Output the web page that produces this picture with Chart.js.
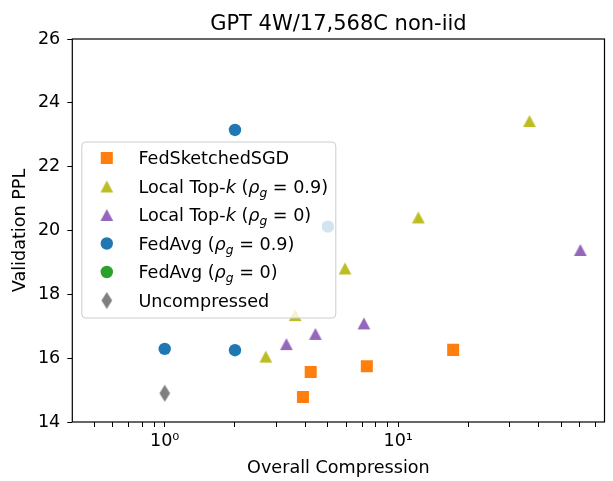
<!DOCTYPE html>
<html>
<head>
<meta charset="utf-8">
<script src="https://cdn.jsdelivr.net/npm/chart.js@4/dist/chart.umd.min.js"></script>
<style>
  html, body { margin: 0; padding: 0; background: #fff; }
  #wrap { width: 613px; height: 481px; }
</style>
</head>
<body>
<div id="wrap"><canvas id="c" width="613" height="481"></canvas></div>
<script>
/* GPT 4W/17,568C non-iid — validation PPL vs overall compression */

// ── DATA ───────────────────────────────────────────────────────
const SKETCH_X   = [3.91, 4.22, 7.34, 17.2];
const SKETCH_Y   = [14.78, 15.57, 15.75, 16.26];
const TOPK09_X   = [2.71, 3.62, 5.92, 12.2, 36.5];
const TOPK09_Y   = [16.05, 17.35, 18.81, 20.41, 23.43];
const TOPK0_X    = [3.32, 4.42, 7.13, 60.3];
const TOPK0_Y    = [16.44, 16.76, 17.09, 19.39];
const FEDAVG09_X = [1, 2, 2, 5];
const FEDAVG09_Y = [16.29, 16.25, 23.15, 20.12];
const FEDAVG0_X  = [];
const FEDAVG0_Y  = [];
const UNCOMP_X   = [1];
const UNCOMP_Y   = [14.9];

const X_TICKS       = [0.5, 0.6, 0.7, 0.8, 0.9, 1, 2, 3, 4, 5, 6, 7, 8, 9, 10, 20, 30, 40, 50, 60, 70];
const X_TICK_LABELS = ['', '', '', '', '', '10\u2070', '', '', '', '', '', '', '', '', '10\u00b9', '', '', '', '', '', ''];

const TITLE = 'GPT 4W/17,568C non-iid';

// legend text as segments: i = italic, sub = subscript
const LEGEND_TEXT = [
  [{ t: 'FedSketchedSGD' }],
  [{ t: 'Local Top-' }, { t: 'k', i: true }, { t: ' (' }, { t: '\u03c1', i: true }, { t: 'g', i: true, sub: true }, { t: ' = 0.9)' }],
  [{ t: 'Local Top-' }, { t: 'k', i: true }, { t: ' (' }, { t: '\u03c1', i: true }, { t: 'g', i: true, sub: true }, { t: ' = 0)' }],
  [{ t: 'FedAvg (' }, { t: '\u03c1', i: true }, { t: 'g', i: true, sub: true }, { t: ' = 0.9)' }],
  [{ t: 'FedAvg (' }, { t: '\u03c1', i: true }, { t: 'g', i: true, sub: true }, { t: ' = 0)' }],
  [{ t: 'Uncompressed' }],
];

// ── STYLE ──────────────────────────────────────────────────────
const FONT = 'DejaVu Sans';
const FS = 17.6;
const C_ORANGE = '#ff7f0e', C_OLIVE = '#bcbd22', C_PURPLE = '#9467bd';
const C_BLUE = '#1f77b4', C_GREEN = '#2ca02c', C_GRAY = '#7f7f7f';

const pts = (xs, ys) => xs.map((x, i) => ({ x, y: ys[i] }));

// matplotlib-like marker shapes drawn into small canvases
function markerCanvas(w, h, color, poly) {
  const c = document.createElement('canvas');
  c.width = w; c.height = h;
  const g = c.getContext('2d');
  g.fillStyle = color;
  g.beginPath();
  poly.forEach(([x, y], i) => i ? g.lineTo(x, y) : g.moveTo(x, y));
  g.closePath();
  g.fill();
  return c;
}
const TRI = [[7, 1], [13.35, 13], [0.65, 13]];
const TRI_OLIVE  = markerCanvas(14, 14, C_OLIVE, TRI);
const TRI_PURPLE = markerCanvas(14, 14, C_PURPLE, TRI);
const DIAMOND    = markerCanvas(12, 18, C_GRAY, [[6, 0.5], [11.3, 9], [6, 17.5], [0.7, 9]]);

// ── PLUGINS ────────────────────────────────────────────────────
// title centred over the plot area, plus the four spines
const framePlugin = {
  id: 'frame',
  afterDatasetsDraw(chart) {
    const { ctx, chartArea: a } = chart;
    ctx.save();
    ctx.strokeStyle = '#000';
    ctx.lineWidth = 1.2;
    ctx.strokeRect(a.left, a.top, a.right - a.left, a.bottom - a.top);
    ctx.fillStyle = '#000';
    ctx.font = '21px "' + FONT + '"';
    ctx.textAlign = 'center';
    ctx.textBaseline = 'alphabetic';
    ctx.fillText(TITLE, (a.left + a.right) / 2, 30);
    ctx.restore();
  },
};

function drawMarker(ctx, ds, x, y) {
  const s = ds.pointStyle;
  ctx.fillStyle = ds.backgroundColor;
  if (s instanceof HTMLCanvasElement) {
    ctx.drawImage(s, x - s.width / 2, y - s.height / 2);
  } else if (s === 'rect') {
    const h = Math.SQRT1_2 * ds.pointRadius;
    ctx.fillRect(x - h, y - h, 2 * h, 2 * h);
  } else {
    ctx.beginPath();
    ctx.arc(x, y, ds.pointRadius, 0, Math.PI * 2);
    ctx.fill();
  }
}

function drawRich(ctx, segs, x, baseline) {
  ctx.fillStyle = '#000';
  ctx.textBaseline = 'alphabetic';
  ctx.textAlign = 'left';
  segs.forEach(sg => {
    const size = sg.sub ? 12.3 : FS;
    ctx.font = (sg.i ? 'italic ' : '') + size + 'px "' + FONT + '"';
    ctx.fillText(sg.t, x, baseline + (sg.sub ? 3.6 : 0));
    x += ctx.measureText(sg.t).width;
  });
}

const legendPlugin = {
  id: 'mplLegend',
  afterDatasetsDraw(chart) {
    const { ctx, chartArea: a } = chart;
    const bx = a.left + 9.5, by = a.top + 103, bw = 254, bh = 176;
    ctx.save();
    ctx.beginPath();
    ctx.roundRect(bx, by, bw, bh, 4);
    ctx.fillStyle = 'rgba(255,255,255,0.8)';
    ctx.fill();
    ctx.strokeStyle = '#cccccc';
    ctx.lineWidth = 1;
    ctx.stroke();
    chart.data.datasets.forEach((ds, i) => {
      const y = by + 16 + i * 28.5;
      drawMarker(ctx, ds, bx + 25, y);
      drawRich(ctx, LEGEND_TEXT[i], bx + 56.6, y + 6.4);
    });
    ctx.restore();
  },
};

// ── CHART ──────────────────────────────────────────────────────
new Chart(document.getElementById('c').getContext('2d'), {
  type: 'scatter',
  data: {
    datasets: [
      { label: 'FedSketchedSGD', data: pts(SKETCH_X, SKETCH_Y), pointStyle: 'rect', pointRadius: 8.5, backgroundColor: C_ORANGE, borderWidth: 0 },
      { label: 'Local Top-k (rho_g = 0.9)', data: pts(TOPK09_X, TOPK09_Y), pointStyle: TRI_OLIVE, pointRadius: 7, backgroundColor: C_OLIVE, borderWidth: 0 },
      { label: 'Local Top-k (rho_g = 0)', data: pts(TOPK0_X, TOPK0_Y), pointStyle: TRI_PURPLE, pointRadius: 7, backgroundColor: C_PURPLE, borderWidth: 0 },
      { label: 'FedAvg (rho_g = 0.9)', data: pts(FEDAVG09_X, FEDAVG09_Y), pointStyle: 'circle', pointRadius: 6.2, backgroundColor: C_BLUE, borderWidth: 0 },
      { label: 'FedAvg (rho_g = 0)', data: pts(FEDAVG0_X, FEDAVG0_Y), pointStyle: 'circle', pointRadius: 6.2, backgroundColor: C_GREEN, borderWidth: 0 },
      { label: 'Uncompressed', data: pts(UNCOMP_X, UNCOMP_Y), pointStyle: DIAMOND, pointRadius: 8, backgroundColor: C_GRAY, borderWidth: 0 },
    ],
  },
  options: {
    responsive: false,
    animation: false,
    events: [],
    layout: { padding: { left: 0, right: 1, top: 39, bottom: 0 } },
    plugins: {
      legend: { display: false },
      tooltip: { enabled: false },
      title: { display: false },
    },
    scales: {
      x: {
        type: 'logarithmic',
        min: 0.402,
        max: 76.5,
        afterBuildTicks: s => { s.ticks = X_TICKS.map(v => ({ value: v })); },
        afterFit: s => { s.height = 59; s.paddingLeft = 0; s.paddingRight = 0; },
        ticks: {
          autoSkip: false, maxRotation: 0, minRotation: 0, padding: 4,
          color: '#000', font: { family: FONT, size: FS },
          callback: (v, i) => X_TICK_LABELS[i],
        },
        grid: { drawOnChartArea: false, drawTicks: true, tickLength: 5, color: '#000' },
        border: { display: false },
        title: { display: true, text: 'Overall Compression', color: '#000', font: { family: FONT, size: FS }, padding: { top: 0, bottom: 2 } },
      },
      y: {
        min: 14,
        max: 26,
        afterFit: s => { s.width = 72.3; s.paddingTop = 0; s.paddingBottom = 0; },
        ticks: { stepSize: 2, padding: 7, color: '#000', font: { family: FONT, size: FS } },
        grid: { drawOnChartArea: false, drawTicks: true, tickLength: 5, color: '#000' },
        border: { display: false },
        title: { display: true, text: 'Validation PPL', color: '#000', font: { family: FONT, size: FS }, padding: { top: 9.5, bottom: 0 } },
      },
    },
  },
  plugins: [framePlugin, legendPlugin],
});
</script>
</body>
</html>
